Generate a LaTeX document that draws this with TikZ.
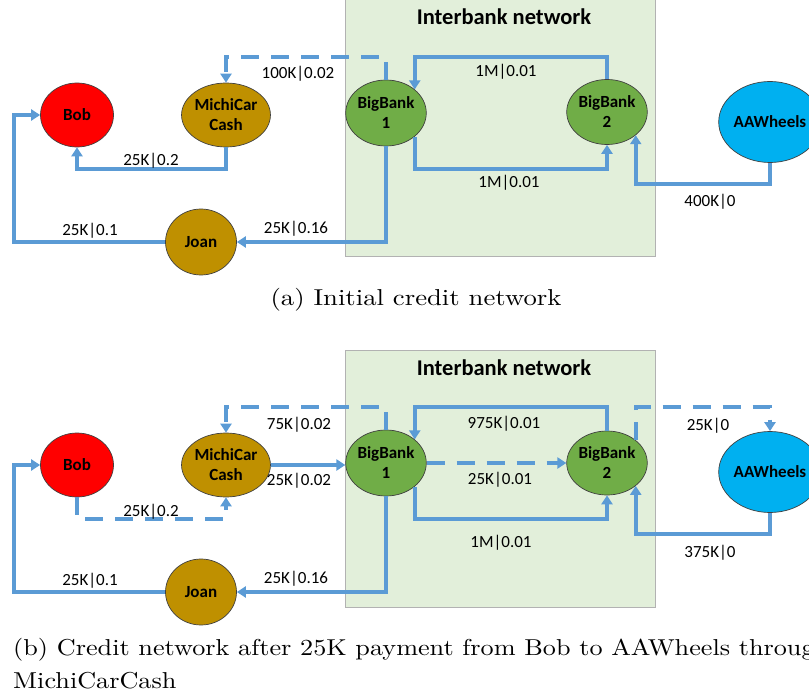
\documentclass[tikz,border=0pt]{standalone}
\usepackage{fontspec}
\usepackage{graphicx}
\usetikzlibrary{shapes.geometric,arrows.meta}
\newfontfamily\carl{Carlito}
\definecolor{lineblue}{HTML}{5B9BD5}
\definecolor{zonegreen}{HTML}{E2EFDA}
\definecolor{bobred}{HTML}{FF0000}
\definecolor{gold}{HTML}{BF9000}
\definecolor{bankgreen}{HTML}{70AD47}
\definecolor{aawblue}{HTML}{00B0F0}
\tikzset{
  agent/.style={ellipse, draw=black!75, line width=0.7pt, inner sep=0pt, align=center, text=black,
    font=\carl\bfseries\fontsize{17}{20}\selectfont},
  flow/.style={draw=lineblue, line width=4pt, -{Triangle[width=11pt,length=9pt]}},
  pend/.style={flow, dash pattern=on 18pt off 12pt},
  lbl/.style={anchor=base, inner sep=0pt, font=\carl\fontsize{17}{20}\selectfont},
  zone/.style={fill=zonegreen, draw=black!30, line width=0.6pt},
  ztitle/.style={anchor=base, inner sep=0pt, font=\carl\bfseries\fontsize{22.5}{27}\selectfont},
  capt/.style={inner sep=0pt},
}
\newcommand{\capbox}[2]{\scalebox{#1}[2.3]{\fontsize{10}{12}\selectfont #2}}
\begin{document}
\begin{tikzpicture}[x=1pt,y=-1pt]
\useasboundingbox (0,0) rectangle (809,698);
\clip (0,0) rectangle (809,698);

% ---------------- panel (a) ----------------
\path[zone] (345,-5) rectangle (655,256);
\node[ztitle] (ta) at (504,25) {Interbank network};

\node[agent, fill=bobred, minimum width=73pt, minimum height=64pt] (bobA) at (77,115) {Bob};
\node[agent, fill=gold, minimum width=72pt, minimum height=64pt] (mcA) at (226,115) {MichiCar\\Cash};
\node[agent, fill=bankgreen, minimum width=70pt, minimum height=66pt] (bbaA) at (386,113) {BigBank\\1};
\node[agent, fill=bankgreen, minimum width=72pt, minimum height=65pt] (bbbA) at (607,112) {BigBank\\2};
\node[agent, fill=aawblue, minimum width=94pt, minimum height=81pt] (aawA) at (770,122) {AAWheels};
\node[agent, fill=gold, minimum width=71pt, minimum height=66pt] (joanA) at (201,242) {Joan};

\coordinate (xl) at (14,0);
\coordinate (yA57) at (0,57);
\coordinate (yA169) at (0,169);
\coordinate (yA184) at (0,184);

\draw[flow] (mcA.south) -- (mcA.south |- yA169) -| (bobA.south);
\draw[flow] (joanA.west) -- (joanA.west -| xl) |- (bobA.west);
\draw[flow] (bbaA.south) |- (joanA.east);
\draw[pend] (bbaA.north) -- (bbaA.north |- yA57) -| (mcA.north);
\draw[flow] (bbbA.north) -- (bbbA.north |- yA57) -| (bbaA.north east);
\draw[flow] (bbaA.south east) -- (bbaA.south east |- yA169) -| (bbbA.south);
\draw[flow] (aawA.south) -- (aawA.south |- yA184) -| (bbbA.south east);

\node[lbl] (la1) at (298,79) {100K|0.02};
\node[lbl] (la2) at (151,166) {25K|0.2};
\node[lbl] (la3) at (90,235) {25K|0.1};
\node[lbl] (la4) at (296,233.5) {25K|0.16};
\node[lbl] (la5) at (506,77) {1M|0.01};
\node[lbl] (la6) at (509,188) {1M|0.01};
\node[lbl] (la7) at (710,207) {400K|0};

\node[capt, anchor=base] (capA) at (416,305) {\capbox{2.67}{(a) Initial credit network}};

% ---------------- panel (b) ----------------
\path[zone] (345,350) rectangle (655,607);
\node[ztitle] (tb) at (504,375) {Interbank network};

\node[agent, fill=bobred, minimum width=73pt, minimum height=64pt] (bobB) at (77,465) {Bob};
\node[agent, fill=gold, minimum width=72pt, minimum height=64pt] (mcB) at (226,465) {MichiCar\\Cash};
\node[agent, fill=bankgreen, minimum width=70pt, minimum height=66pt] (bbaB) at (386,463) {BigBank\\1};
\node[agent, fill=bankgreen, minimum width=72pt, minimum height=64pt] (bbbB) at (607,463) {BigBank\\2};
\node[agent, fill=aawblue, minimum width=94pt, minimum height=81pt] (aawB) at (770,472) {AAWheels};
\node[agent, fill=gold, minimum width=71pt, minimum height=66pt] (joanB) at (201,592) {Joan};

\coordinate (yB407) at (0,407);
\coordinate (yB519) at (0,519);
\coordinate (yB534) at (0,534);

\draw[pend] (bobB.south) -- (bobB.south |- yB519) -| (mcB.south);
\draw[flow] (mcB.east) -- (mcB.east -| bbaB.west);
\draw[flow] (joanB.west) -- (joanB.west -| xl) |- (bobB.west);
\draw[flow] (bbaB.south) |- (joanB.east);
\draw[pend] (bbaB.north) -- (bbaB.north |- yB407) -| (mcB.north);
\draw[flow] (bbbB.north) -- (bbbB.north |- yB407) -| (bbaB.north east);
\draw[pend] (bbaB.east) -- (bbbB.west);
\draw[flow] (bbaB.south east) -- (bbaB.south east |- yB519) -| (bbbB.south);
\draw[pend] (bbbB.north east) -- (bbbB.north east |- yB407) -| (aawB.north);
\draw[flow] (aawB.south) -- (aawB.south |- yB534) -| (bbbB.south east);

\node[lbl] (lb1) at (299,429) {75K|0.02};
\node[lbl] (lb2) at (299,485) {25K|0.02};
\node[lbl] (lb3) at (151,516) {25K|0.2};
\node[lbl] (lb4) at (90,585) {25K|0.1};
\node[lbl] (lb5) at (296,583.5) {25K|0.16};
\node[lbl] (lb6) at (504,428) {975K|0.01};
\node[lbl] (lb7) at (500,484) {25K|0.01};
\node[lbl] (lb8) at (501,547) {1M|0.01};
\node[lbl] (lb9) at (708,430) {25K|0};
\node[lbl] (lb10) at (710,557) {375K|0};

\node[capt, anchor=base west] (capB1) at (13,655) {\capbox{2.62}{(b) Credit network after 25K payment from Bob to AAWheels through}};
\node[capt, anchor=base west] (capB2) at (13,688) {\capbox{2.62}{MichiCarCash}};
\end{tikzpicture}
\end{document}
